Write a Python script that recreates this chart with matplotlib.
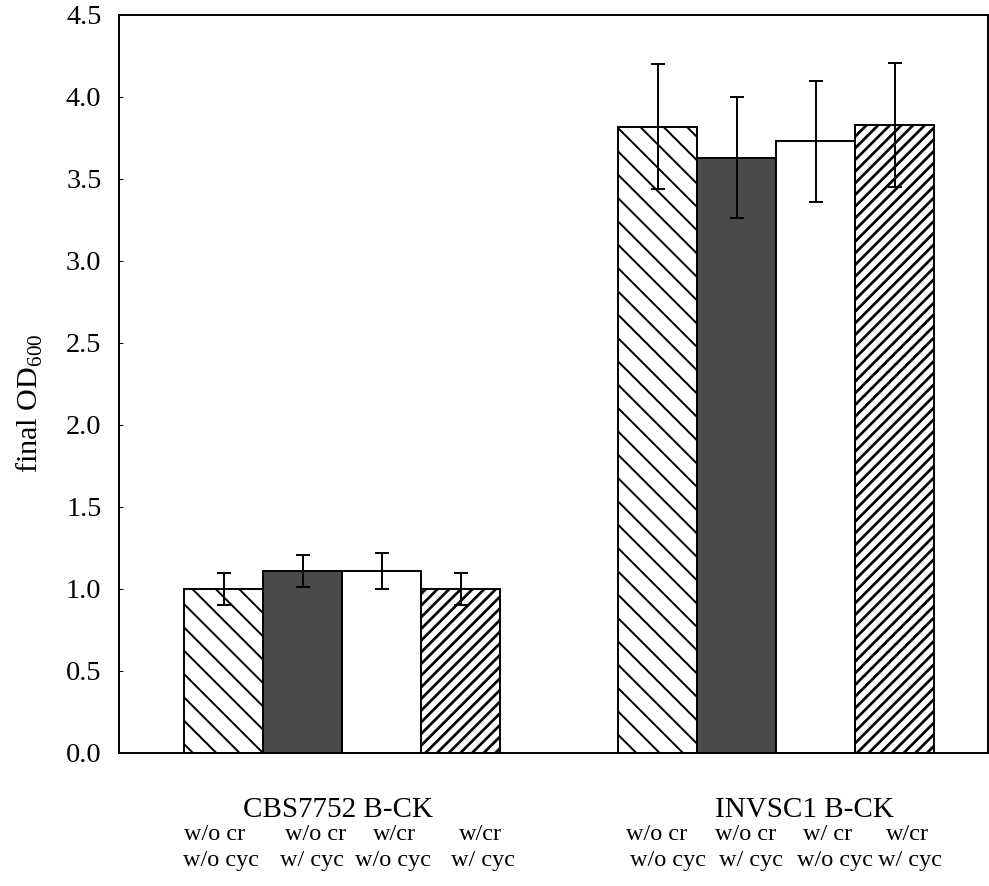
import numpy as np
import matplotlib
matplotlib.use("Agg")
import matplotlib.pyplot as plt

# values
groups = ["CBS7752 B-CK", "INVSC1 B-CK"]
cr_labels = [["w/o cr", "w/o cr", "w/cr", "w/cr"],
             ["w/o cr", "w/o cr", "w/ cr", "w/cr"]]
cyc_labels = [["w/o cyc", "w/ cyc", "w/o cyc", "w/ cyc"],
              ["w/o cyc", "w/ cyc", "w/o cyc", "w/ cyc"]]
means = [[1.00, 1.11, 1.11, 1.00],
         [3.82, 3.63, 3.73, 3.83]]
errs = [[0.10, 0.10, 0.11, 0.10],
        [0.38, 0.37, 0.37, 0.38]]

plt.rcParams["font.family"] = ["Liberation Serif", "DejaVu Serif"]
plt.rcParams["mathtext.fontset"] = "custom"
plt.rcParams["mathtext.rm"] = "Liberation Serif"
plt.rcParams["hatch.linewidth"] = 1.0

dpi = 140
fig = plt.figure(figsize=(989 / dpi, 886 / dpi), dpi=dpi)
ax = fig.add_axes([119 / 989, 1 - 753 / 886, 869 / 989, (753 - 15) / 886])

styles = [dict(color="white", hatch="\\\\"),
          dict(color="#4a4a4a", hatch=None),
          dict(color="white", hatch=None),
          dict(color="white", hatch="////")]

w = 0.182
x = np.arange(len(groups))
for i in range(4):
    pos = x + (i - 1.5) * w
    vals = [m[i] for m in means]
    ee = [e[i] for e in errs]
    bars = ax.bar(pos, vals, w, facecolor=styles[i]["color"], edgecolor="black",
                  hatch=styles[i]["hatch"], linewidth=1.0, zorder=2)
    if i == 3:
        for b in bars:
            if hasattr(b, "set_hatch_linewidth"):
                b.set_hatch_linewidth(1.4)
    ax.errorbar(pos, vals, yerr=ee, fmt="none", ecolor="black",
                elinewidth=1.0, capsize=3.6, capthick=1.0, zorder=3)

ax.set_xlim(-0.514, 1.488)
ax.set_ylim(0, 4.5)
yt = np.arange(0, 4.51, 0.5)
ax.set_yticks(yt)
ax.set_yticklabels([f"{v:.1f}" for v in yt], fontsize=14.5)
ax.tick_params(axis="y", length=2, direction="in", width=0.5, pad=9)
ax.set_xticks([])
for s in ax.spines.values():
    s.set_linewidth(1.0)

ax.set_ylabel(r"final OD$_{\mathregular{600}}$", fontsize=15.5)
ax.yaxis.set_label_coords(-0.085, 0.474)

# group and condition labels under the axis
tr = ax.get_xaxis_transform()
grp_x = [-0.01, 0.065]
line1_x = [[-0.293, -0.062, 0.120, 0.319], [0.724, 0.930, 1.119, 1.303]]
line2_x = [[-0.279, -0.069, 0.118, 0.325], [0.750, 0.941, 1.135, 1.308]]
for g, name in enumerate(groups):
    ax.text(g + grp_x[g], -0.0867, name, transform=tr, ha="center",
            va="baseline", fontsize=15)
    for i in range(4):
        ax.text(line1_x[g][i], -0.1179, cr_labels[g][i], transform=tr,
                ha="center", va="baseline", fontsize=12.5)
        ax.text(line2_x[g][i], -0.1531, cyc_labels[g][i], transform=tr,
                ha="center", va="baseline", fontsize=12.5)

fig.savefig("out.png", dpi=dpi)
